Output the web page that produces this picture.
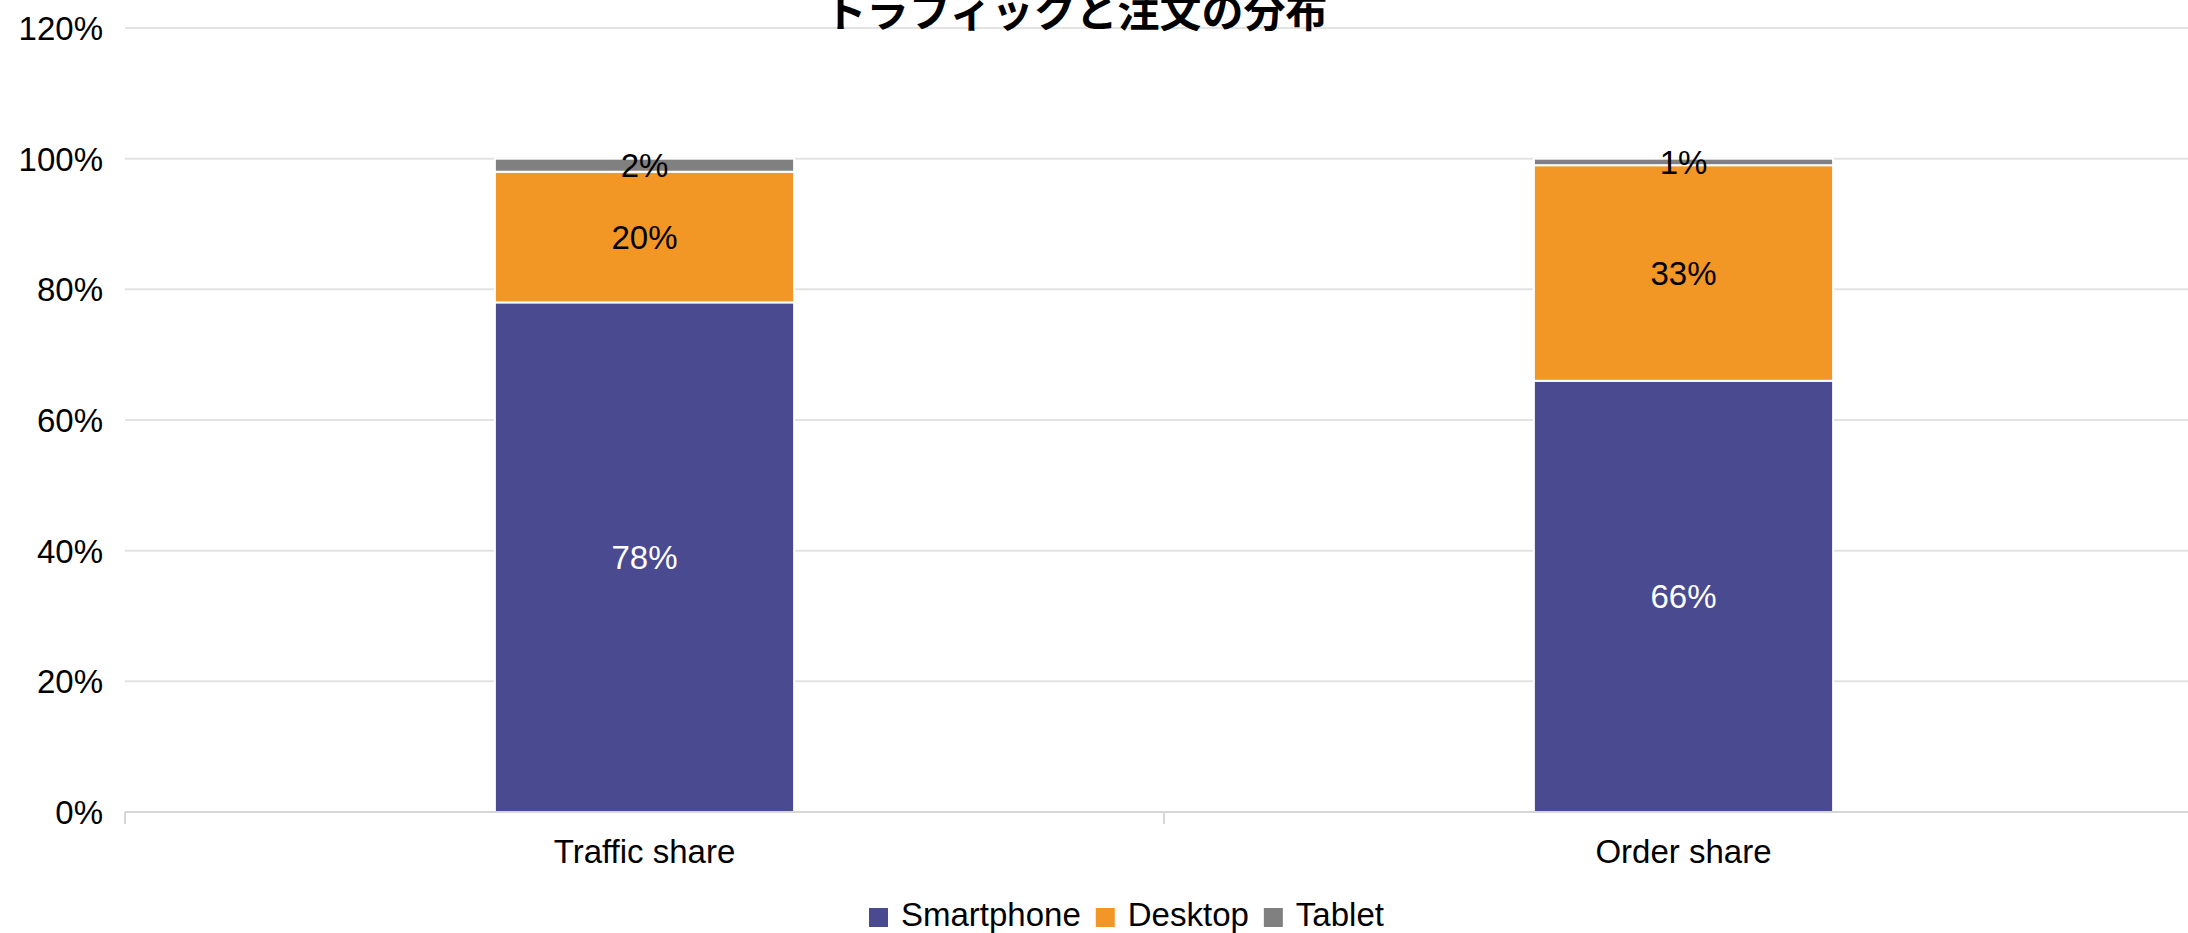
<!DOCTYPE html>
<html lang="ja">
  <head>
    <meta charset="UTF-8" />
    <title>トラフィックと注文の分布</title>
    <script src="https://cdn.jsdelivr.net/npm/d3@7"></script>
    <style>
      html,
      body {
        margin: 0;
        padding: 0;
        background: #fff;
      }
      svg {
        display: block;
        font-family: 'Liberation Sans', Arial, sans-serif;
      }
    </style>
  </head>
  <body>
    <script>
      const categories = ['Traffic share', 'Order share'];
      const seriesNames = ['Smartphone', 'Desktop', 'Tablet'];
      const smartphone = [78, 66];
      const desktop = [20, 33];
      const tablet = [2, 1];
      const yTicks = [0, 20, 40, 60, 80, 100, 120];

      const colors = ['#494a8f', '#f29626', '#808080'];
      const labelColors = ['#fff', '#000', '#000'];

      const width = 2188,
        height = 933;
      const margin = { top: 28, right: -15, bottom: 121, left: 125 };

      const rows = categories.map((c, i) => ({
        category: c,
        Smartphone: smartphone[i],
        Desktop: desktop[i],
        Tablet: tablet[i],
      }));
      const stacked = d3.stack().keys(seriesNames)(rows);

      const svg = d3
        .select('body')
        .append('svg')
        .attr('width', width)
        .attr('height', height);

      const x = d3
        .scaleBand()
        .domain(categories)
        .range([margin.left, width - margin.right])
        .paddingInner(0.712)
        .paddingOuter(0.356);

      const xTicks = d3
        .scaleBand()
        .domain(categories)
        .range([margin.left, width - margin.right])
        .padding(0);

      const y = d3
        .scaleLinear()
        .domain([0, 120])
        .range([height - margin.bottom, margin.top]);

      // grid
      svg
        .append('g')
        .selectAll('line')
        .data(yTicks.slice(1))
        .join('line')
        .attr('x1', margin.left)
        .attr('x2', width)
        .attr('y1', (d) => y(d))
        .attr('y2', (d) => y(d))
        .attr('stroke', '#e3e3e3')
        .attr('stroke-width', 2);

      // y labels
      svg
        .append('g')
        .selectAll('text')
        .data(yTicks)
        .join('text')
        .attr('x', 103)
        .attr('y', (d) => y(d) + 12)
        .attr('text-anchor', 'end')
        .attr('font-size', 33)
        .attr('fill', '#000')
        .text((d) => d + '%');

      // bars
      const layer = svg
        .append('g')
        .selectAll('g')
        .data(stacked)
        .join('g')
        .attr('fill', (d, i) => colors[i]);

      layer
        .selectAll('rect')
        .data((d) => d)
        .join('rect')
        .attr('x', (d) => x(d.data.category))
        .attr('width', x.bandwidth())
        .attr('y', (d) => y(d[1]))
        .attr('height', (d) => y(d[0]) - y(d[1]))
        .attr('stroke', '#fff')
        .attr('stroke-width', 2);

      // x axis line and ticks
      const base = y(0);
      svg
        .append('line')
        .attr('x1', margin.left)
        .attr('x2', width)
        .attr('y1', base)
        .attr('y2', base)
        .attr('stroke', '#d6d6d6')
        .attr('stroke-width', 2);

      svg
        .append('g')
        .selectAll('line')
        .data(categories)
        .join('line')
        .attr('x1', (d) => xTicks(d))
        .attr('x2', (d) => xTicks(d))
        .attr('y1', base)
        .attr('y2', base + 12)
        .attr('stroke', '#d6d6d6')
        .attr('stroke-width', 2);

      svg
        .append('g')
        .selectAll('text')
        .data(categories)
        .join('text')
        .attr('x', (d) => x(d) + x.bandwidth() / 2)
        .attr('y', 863)
        .attr('text-anchor', 'middle')
        .attr('font-size', 33)
        .text((d) => d);

      // data labels
      stacked.forEach((s, si) => {
        svg
          .append('g')
          .selectAll('text')
          .data(s)
          .join('text')
          .attr('x', (d) => x(d.data.category) + x.bandwidth() / 2)
          .attr('y', (d) => y((d[0] + d[1]) / 2) + 12)
          .attr('text-anchor', 'middle')
          .attr('font-size', 33)
          .attr('fill', labelColors[si])
          .text((d) => d[1] - d[0] + '%');
      });

      // title
      svg
        .append('text')
        .attr('x', 1076)
        .attr('y', 27)
        .attr('text-anchor', 'middle')
        .attr('font-family', "'Noto Sans CJK JP', sans-serif")
        .attr('font-weight', 'bold')
        .attr('font-size', 42)
        .text('トラフィックと注文の分布');

      // legend
      const legend = svg.append('g');
      let lx = 869;
      seriesNames.forEach((name, i) => {
        legend
          .append('rect')
          .attr('x', lx)
          .attr('y', 908)
          .attr('width', 19)
          .attr('height', 19)
          .attr('fill', colors[i]);
        const t = legend
          .append('text')
          .attr('x', lx + 32)
          .attr('y', 926)
          .attr('font-size', 33)
          .text(name);
        lx += 32 + t.node().getComputedTextLength() + 15;
      });
    </script>
  </body>
</html>
